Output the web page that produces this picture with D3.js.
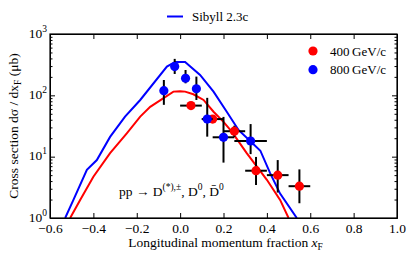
<!DOCTYPE html>
<html>
<head>
<meta charset="utf-8">
<script src="https://cdn.jsdelivr.net/npm/d3@7"></script>
<style>
  body { margin: 0; background: #fff; }
</style>
</head>
<body>
<svg id="chart"></svg>
<script>
// Sibyll 2.3c curves
const sib800X = [-0.53, -0.492, -0.43, -0.384, -0.323, -0.254, -0.184, -0.061, -0.023, 0.023, 0.092, 0.154, 0.215, 0.27, 0.323, 0.37, 0.415, 0.461, 0.538];
const sib800Y = [1, 1.97, 6.1, 8.8, 21, 45, 84, 294, 350, 350, 215, 115, 54, 27, 18, 12.5, 5.4, 2.5, 1];
const sib400X = [-0.507, -0.461, -0.4, -0.323, -0.284, -0.246, -0.184, -0.138, -0.031, 0.0, 0.023, 0.061, 0.108, 0.154, 0.2, 0.238, 0.307, 0.4, 0.461, 0.5];
const sib400Y = [1, 1.97, 4.7, 11.4, 16.6, 24, 45, 65, 115, 117, 115, 104, 84, 54, 37, 25.6, 11.4, 4.2, 1.97, 1];

// data 400 GeV/c
const d400X = [0.05, 0.15, 0.25, 0.35, 0.45, 0.55];
const d400Y = [68, 41, 26, 5.9, 5.0, 3.3];
const d400XErr = [0.05, 0.05, 0.05, 0.05, 0.05, 0.05];
const d400Lo = [62, 37, 21, 3.45, 2.6, 1.74];
const d400Hi = [75, 45, 32, 9.9, 8.8, 6.2];

// data 800 GeV/c
const d800X = [-0.075, -0.025, 0.025, 0.075, 0.125, 0.2, 0.325];
const d800Y = [119, 294, 190, 128, 41, 20.7, 18];
const d800XErr = [0, 0, 0, 0, 0.025, 0.05, 0.075];
const d800Lo = [70, 223, 157, 84, 21.2, 8.0, 11];
const d800Hi = [178, 393, 259, 202, 91, 44.5, 34];

const xTicks = [-0.6, -0.4, -0.2, 0.0, 0.2, 0.4, 0.6, 0.8, 1.0];
const yTicks = [1, 10, 100, 1000];

const FONT = "'Liberation Serif', 'Times New Roman', 'DejaVu Serif', serif";
const FS = "13.5px", FSS = "9.5px";
const W = 415, H = 261;
const margin = { top: 34, right: 18, bottom: 43, left: 50 };
const width = W - margin.left - margin.right,
      height = H - margin.top - margin.bottom;

const svg = d3.select("#chart").attr("width", W).attr("height", H)
  .style("font-family", FONT);
const g = svg.append("g").attr("transform", `translate(${margin.left},${margin.top})`);

const x = d3.scaleLinear().domain([-0.6, 1.0]).range([0, width]);
const y = d3.scaleLog().domain([1, 1000]).range([height, 0]);

svg.append("defs").append("clipPath").attr("id", "clip")
  .append("rect").attr("width", width).attr("height", height);

const plot = g.append("g").attr("clip-path", "url(#clip)");

const line = d3.line().x(d => x(d[0])).y(d => y(d[1]));

plot.append("path")
  .datum(d3.zip(sib400X, sib400Y))
  .attr("d", line).attr("fill", "none").attr("stroke", "#ff0000").attr("stroke-width", 2);
plot.append("path")
  .datum(d3.zip(sib800X, sib800Y))
  .attr("d", line).attr("fill", "none").attr("stroke", "#0000ff").attr("stroke-width", 2);

function drawPoints(xs, ys, xe, lo, hi, color) {
  const pts = xs.map((v, i) => ({ x: v, y: ys[i], xe: xe[i], lo: lo[i], hi: hi[i] }));
  const grp = plot.append("g");
  pts.forEach(p => {
    if (p.xe > 0) {
      grp.append("line")
        .attr("x1", x(p.x - p.xe)).attr("x2", x(p.x + p.xe))
        .attr("y1", y(p.y)).attr("y2", y(p.y))
        .attr("stroke", "#000").attr("stroke-width", 2);
    }
    grp.append("line")
      .attr("x1", x(p.x)).attr("x2", x(p.x))
      .attr("y1", y(p.lo)).attr("y2", y(p.hi))
      .attr("stroke", "#000").attr("stroke-width", 2);
  });
  grp.selectAll("circle").data(pts).enter().append("circle")
    .attr("cx", d => x(d.x)).attr("cy", d => y(d.y)).attr("r", 4.6)
    .attr("fill", color);
}
drawPoints(d400X, d400Y, d400XErr, d400Lo, d400Hi, "#ff0000");
drawPoints(d800X, d800Y, d800XErr, d800Lo, d800Hi, "#0000ff");

// axes
const minor = y.ticks().filter(v => !yTicks.includes(v));

g.append("g").attr("transform", `translate(0,${height})`)
  .call(d3.axisBottom(x).tickValues(xTicks).tickSizeInner(-5).tickSizeOuter(0)
    .tickFormat(d => d < 0 ? "\u2212" + Math.abs(d).toFixed(1) : d.toFixed(1)))
  .call(a => a.attr("font-family", FONT).selectAll("text")
    .attr("y", 5).attr("dy", "0.71em").style("font-size", FS).attr("fill", "#000"));
g.append("g")
  .call(d3.axisTop(x).tickValues(xTicks).tickSizeInner(-5).tickSizeOuter(0).tickFormat(""));

g.append("g")
  .call(d3.axisLeft(y).tickValues(yTicks).tickSizeInner(-5).tickSizeOuter(0).tickFormat(""));
g.append("g")
  .call(d3.axisLeft(y).tickValues(minor).tickSizeInner(-2.5).tickSizeOuter(0).tickFormat(""));
g.append("g").attr("transform", `translate(${width},0)`)
  .call(d3.axisRight(y).tickValues(yTicks).tickSizeInner(-5).tickSizeOuter(0).tickFormat(""));
g.append("g").attr("transform", `translate(${width},0)`)
  .call(d3.axisRight(y).tickValues(minor).tickSizeInner(-2.5).tickSizeOuter(0).tickFormat(""));

g.selectAll(".domain").attr("stroke", "#000");
g.selectAll(".tick line").attr("stroke", "#000");

g.append("rect").attr("width", width).attr("height", height)
  .attr("fill", "none").attr("stroke", "#000").attr("stroke-width", 1.2);

// y tick labels 10^n
yTicks.forEach(v => {
  const t = g.append("text").attr("x", -3).attr("y", y(v) + 3.5)
    .attr("text-anchor", "end").style("font-size", FS);
  t.append("tspan").text("10");
  t.append("tspan").attr("dy", -6).style("font-size", FSS).text(Math.round(Math.log10(v)));
});

// axis titles
const xt = svg.append("text")
  .attr("x", margin.left + width / 2 + 2).attr("y", 247)
  .attr("text-anchor", "middle").style("font-size", FS);
xt.append("tspan").text("Longitudinal momentum fraction ");
xt.append("tspan").style("font-style", "italic").text("x");
xt.append("tspan").attr("dy", 2.5).style("font-size", FSS).text("F");

const ytl = svg.append("text")
  .attr("transform", `translate(18,${margin.top + height / 2}) rotate(-90)`)
  .attr("text-anchor", "middle").style("font-size", FS);
ytl.append("tspan").text("Cross section d\u03c3 / dx");
ytl.append("tspan").attr("dy", 2.5).style("font-size", FSS).text("F");
ytl.append("tspan").attr("dy", -2.5).text(" (\u03bcb)");

// reaction
const ann = g.append("text").attr("x", 69).attr("y", 162).style("font-size", FS);
ann.append("tspan").text("pp \u2192 D");
ann.append("tspan").attr("dy", -6).style("font-size", FSS).text("(*),\u00b1");
ann.append("tspan").attr("dy", 6).text(", D");
ann.append("tspan").attr("dy", -6).style("font-size", FSS).text("0");
ann.append("tspan").attr("dy", 6).text(", D\u0304");
ann.append("tspan").attr("dy", -6).style("font-size", FSS).text("0");

// legend top
svg.append("line").attr("x1", 167).attr("x2", 183).attr("y1", 16.5).attr("y2", 16.5)
  .attr("stroke", "#0000ff").attr("stroke-width", 2);
svg.append("text").attr("x", 192).attr("y", 21).style("font-size", "13px").text("Sibyll 2.3c");

// legend right
const leg = [["400\u2009GeV/c", "#ff0000"], ["800\u2009GeV/c", "#0000ff"]];
leg.forEach((d, i) => {
  svg.append("circle").attr("cx", 313).attr("cy", 51 + i * 18.7).attr("r", 4.6).attr("fill", d[1]);
  svg.append("text").attr("x", 330).attr("y", 55.5 + i * 18.7).style("font-size", "13px").text(d[0]);
});
</script>
</body>
</html>
